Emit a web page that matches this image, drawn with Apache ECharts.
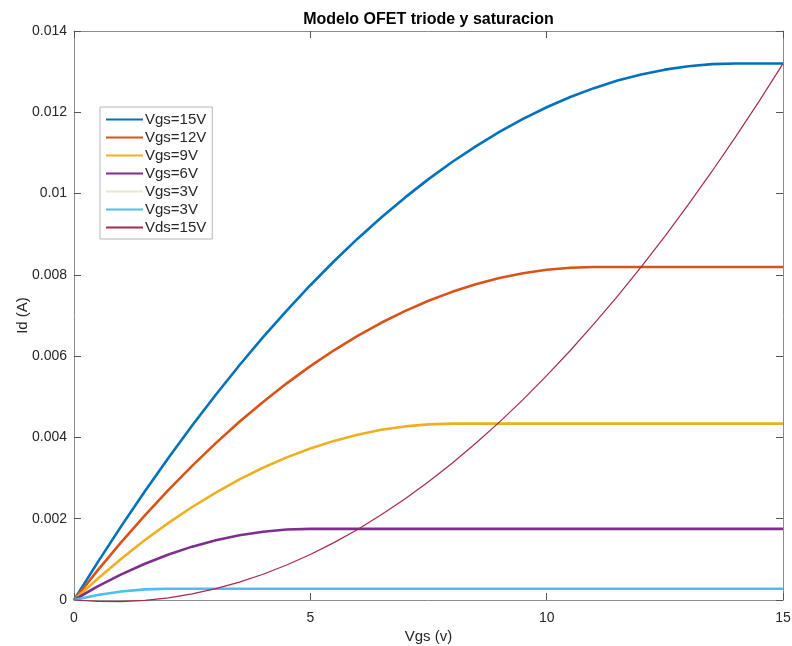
<!DOCTYPE html>
<html>
<head>
<meta charset="utf-8">
<script src="https://cdn.jsdelivr.net/npm/echarts@6/dist/echarts.min.js"></script>
<style>
  html, body { margin: 0; padding: 0; background: #ffffff; }
  #chart { width: 792px; height: 646px; }
</style>
</head>
<body>
<div id="chart"></div>
<script>
// Drain voltage samples (V)
const vds = [0, 0.5, 1, 1.5, 2, 2.5, 3, 3.5, 4, 4.5, 5, 5.5, 6, 6.5, 7, 7.5,
             8, 8.5, 9, 9.5, 10, 10.5, 11, 11.5, 12, 12.5, 13, 13.5, 14, 14.5, 15];

// Drain current (A) for each gate voltage
const idVgs15 = [0, 0.000926, 0.001818, 0.002677, 0.003502, 0.004294, 0.005051, 0.005775,
  0.006466, 0.007122, 0.007745, 0.008334, 0.008890, 0.009412, 0.009900, 0.010355,
  0.010776, 0.011163, 0.011517, 0.011837, 0.012123, 0.012375, 0.012594, 0.012780,
  0.012931, 0.013049, 0.013133, 0.013184, 0.013201, 0.013201, 0.013201];
const idVgs12 = [0, 0.000728, 0.001422, 0.002082, 0.002708, 0.003300, 0.003859, 0.004384,
  0.004874, 0.005331, 0.005755, 0.006144, 0.006499, 0.006821, 0.007109, 0.007362,
  0.007582, 0.007769, 0.007921, 0.008039, 0.008124, 0.008175, 0.008192, 0.008192,
  0.008192, 0.008192, 0.008192, 0.008192, 0.008192, 0.008192, 0.008192];
const idVgs9 = [0, 0.000525, 0.001017, 0.001475, 0.001898, 0.002288, 0.002644, 0.002966,
  0.003254, 0.003509, 0.003729, 0.003915, 0.004068, 0.004187, 0.004271, 0.004322,
  0.004339, 0.004339, 0.004339, 0.004339, 0.004339, 0.004339, 0.004339, 0.004339,
  0.004339, 0.004339, 0.004339, 0.004339, 0.004339, 0.004339, 0.004339];
const idVgs6 = [0, 0.000333, 0.000630, 0.000893, 0.001120, 0.001313, 0.001470, 0.001593,
  0.001680, 0.001733, 0.001750, 0.001750, 0.001750, 0.001750, 0.001750, 0.001750,
  0.001750, 0.001750, 0.001750, 0.001750, 0.001750, 0.001750, 0.001750, 0.001750,
  0.001750, 0.001750, 0.001750, 0.001750, 0.001750, 0.001750, 0.001750];
const idVgs3 = [0, 0.000122, 0.000209, 0.000261, 0.000278, 0.000278, 0.000278, 0.000278,
  0.000278, 0.000278, 0.000278, 0.000278, 0.000278, 0.000278, 0.000278, 0.000278,
  0.000278, 0.000278, 0.000278, 0.000278, 0.000278, 0.000278, 0.000278, 0.000278,
  0.000278, 0.000278, 0.000278, 0.000278, 0.000278, 0.000278, 0.000278];

// Transfer curve at Vds = 15 V (x axis read as Vgs)
const idVds15 = [0, -0.000035, -0.000038, -0.000008, 0.000054, 0.000150, 0.000278, 0.000439,
  0.000633, 0.000860, 0.001119, 0.001412, 0.001737, 0.002095, 0.002485, 0.002909,
  0.003365, 0.003855, 0.004376, 0.004931, 0.005519, 0.006139, 0.006792, 0.007478,
  0.008196, 0.008948, 0.009733, 0.010550, 0.011400, 0.012282, 0.013197];

const seriesNames = ['Vgs=15V', 'Vgs=12V', 'Vgs=9V', 'Vgs=6V', 'Vgs=3V', 'Vgs=3V ', 'Vds=15V'];
const legendLabels = ['Vgs=15V', 'Vgs=12V', 'Vgs=9V', 'Vgs=6V', 'Vgs=3V', 'Vgs=3V', 'Vds=15V'];
const seriesData = [idVgs15, idVgs12, idVgs9, idVgs6, idVgs3, idVgs3, idVds15];
const seriesColors = ['#0072BD', '#D95319', '#EDB120', '#7E2F8E', '#e4e9c9', '#4DBEEE', '#a82a47'];
const seriesWidths = [2.6, 2.6, 2.6, 2.6, 1.4, 2.6, 1.2];

const xTicks = [0, 5, 10, 15];
const yTickLabels = ['0', '0.002', '0.004', '0.006', '0.008', '0.01', '0.012', '0.014'];

const FONT = '"Liberation Sans", Arial, Helvetica, sans-serif';
const AXIS_GRAY = '#8c8c8c';
const TEXT = '#262626';

const pairs = (ys) => vds.map((x, i) => [x, ys[i]]);

const series = seriesNames.map((name, i) => ({
  name,
  type: 'line',
  data: pairs(seriesData[i]),
  showSymbol: false,
  symbol: 'none',
  clip: i !== 6,
  animation: false,
  lineStyle: { color: seriesColors[i], width: seriesWidths[i] },
  itemStyle: { color: seriesColors[i] },
  z: i === 4 ? 1 : 2
}));

const baseX = {
  type: 'value', min: 0, max: 15, interval: 5,
  axisLine: { show: true, onZero: false, lineStyle: { color: AXIS_GRAY, width: 1 } },
  axisTick: { show: true, inside: true, length: 7, lineStyle: { color: '#555555' } },
  splitLine: { show: false }
};
const baseY = {
  type: 'value', min: 0, max: 0.014, interval: 0.002,
  axisLine: { show: true, onZero: false, lineStyle: { color: AXIS_GRAY, width: 1 } },
  axisTick: { show: true, inside: true, length: 7, lineStyle: { color: '#555555' } },
  splitLine: { show: false }
};

const chart = echarts.init(document.getElementById('chart'), null, { renderer: 'canvas' });
chart.setOption({
  backgroundColor: '#ffffff',
  animation: false,
  title: {
    text: 'Modelo OFET triode y saturacion',
    left: 423.5,
    top: 7,
    textAlign: 'center',
    textStyle: { fontFamily: FONT, fontSize: 16, fontWeight: 'bold', color: '#000000' }
  },
  legend: {
    orient: 'vertical',
    left: 100,
    top: 107,
    data: seriesNames.map((n) => ({ name: n })),
    formatter: (n) => legendLabels[seriesNames.indexOf(n)],
    itemWidth: 37,
    itemHeight: 14,
    itemGap: 3,
    padding: [5, 6, 4, 5],
    backgroundColor: '#ffffff',
    borderColor: '#b5b5b5',
    borderWidth: 1,
    borderRadius: 0,
    selectedMode: false,
    itemStyle: { opacity: 0 },
    textStyle: { fontFamily: FONT, fontSize: 15, color: TEXT, padding: [0, 0, 0, -3] }
  },
  grid: { left: 74, right: 9, top: 31, bottom: 46, containLabel: false, outerBoundsMode: 'none' },
  xAxis: [
    Object.assign({}, baseX, {
      position: 'bottom',
      name: 'Vgs (v)',
      nameLocation: 'middle',
      nameGap: 29,
      nameMoveOverlap: false,
      nameTextStyle: { fontFamily: FONT, fontSize: 15, color: TEXT },
      axisLabel: {
        fontFamily: FONT, fontSize: 14, color: TEXT, margin: 11,
        formatter: (v) => String(xTicks[xTicks.indexOf(v)])
      }
    }),
    Object.assign({}, baseX, { position: 'top', axisLabel: { show: false } })
  ],
  yAxis: [
    Object.assign({}, baseY, {
      position: 'left',
      name: 'Id (A)',
      nameLocation: 'middle',
      nameGap: 44,
      nameMoveOverlap: false,
      nameTextStyle: { fontFamily: FONT, fontSize: 15, color: TEXT },
      axisLabel: {
        fontFamily: FONT, fontSize: 14, color: TEXT, margin: 7,
        formatter: (v) => yTickLabels[Math.round(v / 0.002)]
      }
    }),
    Object.assign({}, baseY, { position: 'right', axisLabel: { show: false } })
  ],
  series
});
</script>
</body>
</html>
